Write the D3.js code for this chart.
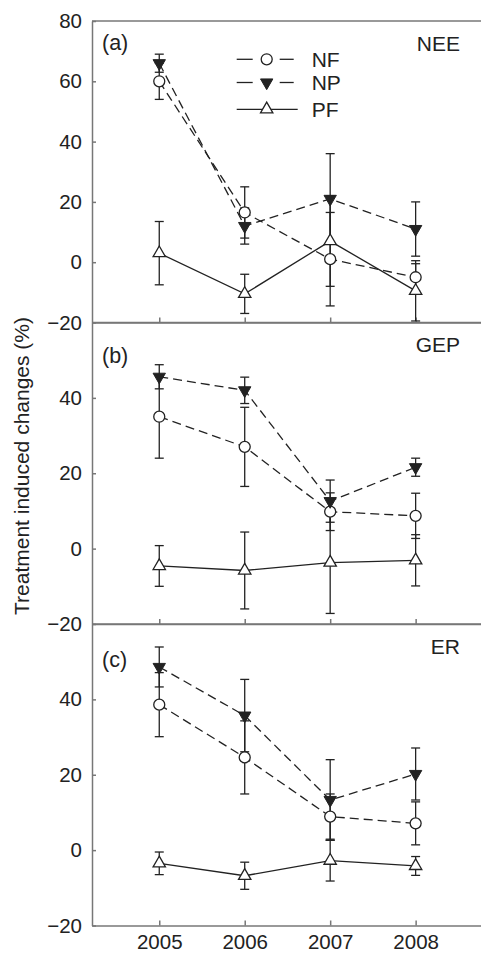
<!DOCTYPE html>
<html lang="en">
<head>
    <meta charset="UTF-8">
    <title>Treatment induced changes</title>
    <script src="https://d3js.org/d3.v7.min.js"></script>
    <style>
        html, body {
            margin: 0;
            background: #fff;
        }
        svg text {
            font-family: "Liberation Sans", Arial, sans-serif;
            fill: #222;
        }
    </style>
</head>
<body>
    <div id="vis"></div>
    <script>
// data
var years = [2005, 2006, 2007, 2008];
var seriesNames = ['NF', 'NP', 'PF'];
var panelNames = ['NEE', 'GEP', 'ER'];
var panelLetters = ['(a)', '(b)', '(c)'];
var yTicksA = [-20, 0, 20, 40, 60, 80];
var yTicksBC = [-20, 0, 20, 40];

var neeNF = [60, 16.5, 1, -5];
var neeNFErr = [6, 8.5, 15.5, 4.5];
var neeNP = [66, 12, 21, 11];
var neeNPErr = [3, 6, 15, 9];
var neePF = [3, -10.5, 7, -9.5];
var neePFErr = [10.5, 6.5, 15, 10];

var gepNF = [35, 27, 9.8, 8.7];
var gepNFErr = [11, 10.5, 5, 6];
var gepNP = [45.6, 42, 12.6, 21.6];
var gepNPErr = [3.2, 3.5, 5.6, 2.4];
var gepPF = [-4.6, -5.8, -3.7, -3.1];
var gepPFErr = [5.4, 10.2, 13.5, 6.8];

var erNF = [38.6, 24.6, 8.9, 7.1];
var erNFErr = [8.5, 9.7, 6, 5.7];
var erNP = [48.6, 35.7, 13.3, 20.2];
var erNPErr = [5.3, 9.6, 10.7, 6.9];
var erPF = [-3.5, -6.8, -2.8, -4.2];
var erPFErr = [3, 3.6, 5.4, 2.5];

var panels = [
    {name: panelNames[0], letter: panelLetters[0], domain: [-20, 80], ticks: yTicksA,
     values: [neeNF, neeNP, neePF], errors: [neeNFErr, neeNPErr, neePFErr]},
    {name: panelNames[1], letter: panelLetters[1], domain: [-20, 60], ticks: yTicksBC,
     values: [gepNF, gepNP, gepPF], errors: [gepNFErr, gepNPErr, gepPFErr]},
    {name: panelNames[2], letter: panelLetters[2], domain: [-20, 60], ticks: yTicksBC,
     values: [erNF, erNP, erPF], errors: [erNFErr, erNPErr, erPFErr]}
];

var width = 481, height = 953;
var left = 92, right = 484, top0 = 21, panelH = 301.5;
var letterOffset = [29, 40, 42.5];
var ink = '#222', axisColour = '#777';
var fontSize = 20.5;

var svg = d3.select('#vis')
    .append('svg')
    .attr('width', width)
    .attr('height', height);

var x = d3.scaleLinear()
    .domain([2004.213, 2008.8])
    .range([left, right]);

var dashes = {NF: '9,5', NP: '9,5', PF: null};

function marker(g, name) {
    if (name == 'NF') {
        g.append('circle')
            .attr('r', 5.5)
            .attr('fill', '#fff')
            .attr('stroke', ink)
            .attr('stroke-width', 1.3);
    } else if (name == 'NP') {
        g.append('path')
            .attr('d', d3.symbol(d3.symbolTriangle, 66)())
            .attr('transform', 'rotate(180)')
            .attr('fill', ink)
            .attr('stroke', ink)
            .attr('stroke-width', 1);
    } else {
        g.append('path')
            .attr('d', d3.symbol(d3.symbolTriangle, 66)())
            .attr('fill', '#fff')
            .attr('stroke', ink)
            .attr('stroke-width', 1.3);
    }
}

panels.forEach(function(p, i) {
    var top = top0 + i * panelH;
    var y = d3.scaleLinear()
        .domain(p.domain)
        .range([top + panelH, top]);

    var g = svg.append('g').attr('class', 'panel');

    // axes
    var yAxis = d3.axisLeft(y)
        .tickValues(p.ticks)
        .tickSizeInner(-4)
        .tickSizeOuter(0)
        .tickPadding(10)
        .tickFormat(d3.format('d'));
    var xAxis = d3.axisBottom(x)
        .tickValues(years)
        .tickSizeInner(-5)
        .tickSizeOuter(0)
        .tickPadding(9)
        .tickFormat(i == 2 ? d3.format('d') : function() { return ''; });

    g.append('g')
        .attr('class', 'y axis')
        .attr('transform', 'translate(' + left + ',0)')
        .call(yAxis);
    g.append('g')
        .attr('class', 'x axis')
        .attr('transform', 'translate(0,' + (top + panelH) + ')')
        .call(xAxis);

    g.selectAll('.axis path, .axis line')
        .attr('stroke', axisColour)
        .attr('stroke-width', 1.5);
    g.selectAll('.axis text')
        .style('font-size', fontSize + 'px')
        .attr('fill', ink);

    // frame top
    g.append('line')
        .attr('x1', left).attr('x2', right)
        .attr('y1', top).attr('y2', top)
        .attr('stroke', axisColour).attr('stroke-width', 1.5);

    // labels
    g.append('text')
        .attr('x', 102)
        .attr('y', top + letterOffset[i])
        .style('font-size', '21.5px')
        .text(p.letter);
    g.append('text')
        .attr('x', 460)
        .attr('y', top + 29.5)
        .attr('text-anchor', 'end')
        .style('font-size', '21px')
        .text(p.name);

    // error bars
    seriesNames.forEach(function(s, k) {
        var eb = g.append('g').attr('class', 'err ' + s);
        years.forEach(function(yr, j) {
            var v = p.values[k][j], e = p.errors[k][j];
            var cx = x(yr);
            eb.append('line')
                .attr('x1', cx).attr('x2', cx)
                .attr('y1', y(v - e)).attr('y2', y(v + e))
                .attr('stroke', ink).attr('stroke-width', 1.3);
            [v - e, v + e].forEach(function(t) {
                eb.append('line')
                    .attr('x1', cx - 4.5).attr('x2', cx + 4.5)
                    .attr('y1', y(t)).attr('y2', y(t))
                    .attr('stroke', ink).attr('stroke-width', 1.3);
            });
        });
    });

    // lines
    var line = d3.line()
        .x(function(d, j) { return x(years[j]); })
        .y(function(d) { return y(d); });

    seriesNames.forEach(function(s, k) {
        g.append('path')
            .datum(p.values[k])
            .attr('d', line)
            .attr('fill', 'none')
            .attr('stroke', ink)
            .attr('stroke-width', 1.3)
            .attr('stroke-dasharray', dashes[s]);
    });

    // markers
    seriesNames.forEach(function(s, k) {
        years.forEach(function(yr, j) {
            var m = g.append('g')
                .attr('transform', 'translate(' + x(yr) + ',' + y(p.values[k][j]) + ')');
            marker(m, s);
        });
    });
});

// y label
svg.append('text')
    .attr('transform', 'translate(29,466) rotate(-90)')
    .attr('text-anchor', 'middle')
    .style('font-size', '21px')
    .text('Treatment induced changes (%)');

// legend
var legendY = [59.3, 82.5, 109.3];
var legend = svg.append('g').attr('class', 'legend');
seriesNames.forEach(function(s, k) {
    var row = legend.append('g')
        .attr('transform', 'translate(266.7,' + legendY[k] + ')');
    if (s == 'PF') {
        row.append('line')
            .attr('x1', -30).attr('x2', 31)
            .attr('y1', 0).attr('y2', 0)
            .attr('stroke', ink).attr('stroke-width', 1.3);
    } else {
        [[-30, -14], [13, 27]].forEach(function(seg) {
            row.append('line')
                .attr('x1', seg[0]).attr('x2', seg[1])
                .attr('y1', 0).attr('y2', 0)
                .attr('stroke', ink).attr('stroke-width', 1.3);
        });
    }
    marker(row, s);
    legend.append('text')
        .attr('x', 311.7)
        .attr('y', legendY[k] + 7.5)
        .style('font-size', '21px')
        .text(s);
});
    </script>
</body>
</html>
